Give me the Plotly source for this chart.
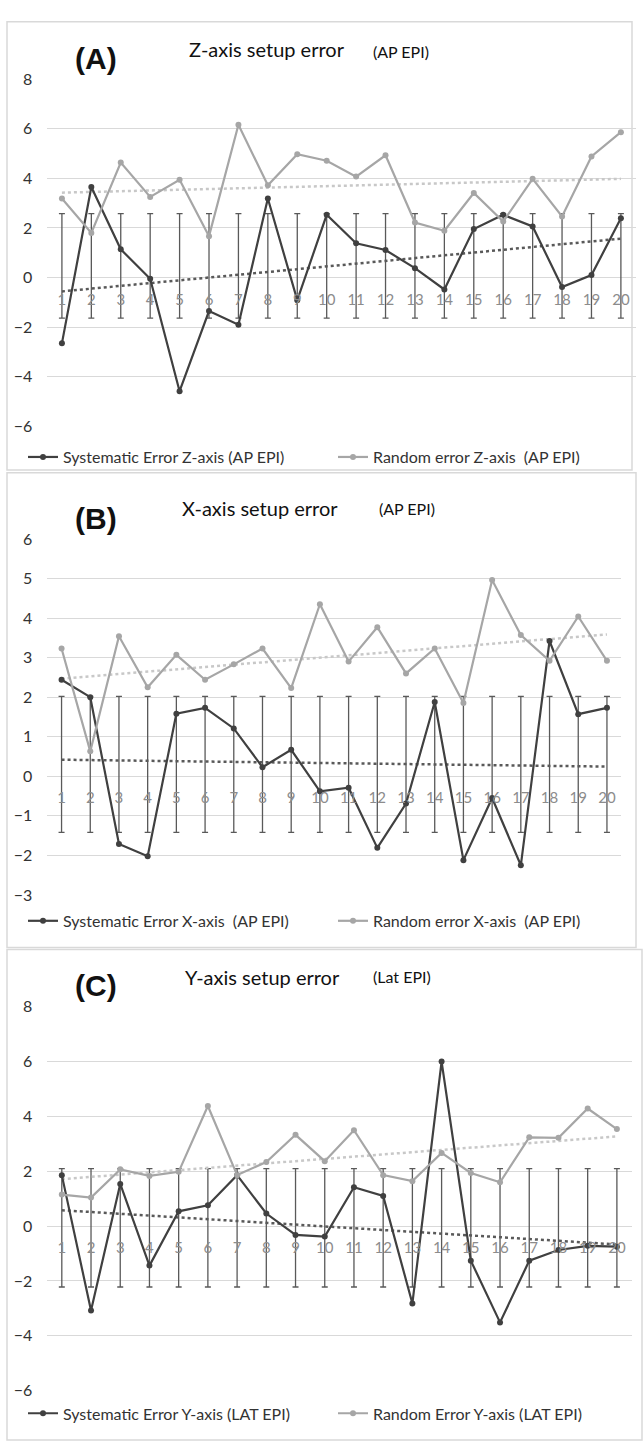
import numpy as np
import plotly.graph_objects as go

W, H = 643, 1449

categories = [str(i) for i in range(1, 21)]

# Panel A - Z-axis (AP EPI)
sys_z = [-2.65, 3.65, 1.14, -0.05, -4.58, -1.35, -1.9, 3.19, -0.91, 2.53,
         1.38, 1.11, 0.38, -0.48, 1.96, 2.53, 2.06, -0.38, 0.1, 2.39]
rand_z = [3.19, 1.8, 4.64, 3.25, 3.94, 1.67, 6.16, 3.72, 4.97, 4.71,
          4.07, 4.93, 2.22, 1.89, 3.41, 2.26, 3.98, 2.46, 4.88, 5.86]
err_z_top, err_z_bottom = 2.58, -1.63

# Panel B - X-axis (AP EPI)
sys_x = [2.44, 2.0, -1.71, -2.02, 1.58, 1.73, 1.21, 0.23, 0.67, -0.38,
         -0.29, -1.81, -0.69, 1.88, -2.12, -0.55, -2.25, 3.42, 1.57, 1.73]
rand_x = [3.23, 0.63, 3.54, 2.25, 3.07, 2.44, 2.83, 3.23, 2.23, 4.35,
          2.9, 3.77, 2.6, 3.23, 1.85, 4.96, 3.57, 2.92, 4.04, 2.92]
err_x_top, err_x_bottom = 2.02, -1.42

# Panel C - Y-axis (LAT EPI)
sys_y = [1.86, -3.08, 1.54, -1.44, 0.54, 0.76, 1.86, 0.46, -0.32, -0.38,
         1.42, 1.1, -2.82, 6.0, -1.26, -3.51, -1.26, -0.87, -0.72, -0.75]
rand_y = [1.15, 1.04, 2.07, 1.83, 1.98, 4.38, 1.86, 2.34, 3.33, 2.37,
          3.5, 1.86, 1.64, 2.67, 1.94, 1.6, 3.24, 3.22, 4.29, 3.54]
err_y_top, err_y_bottom = 2.1, -2.22

DARK = "#404040"
LIGHT = "#a6a6a6"
TXT = "#333333"
GRID = "#d9d9d9"
FONT = "Lato"

panels = [
    dict(sys=sys_z, rand=rand_z, et=err_z_top, eb=err_z_bottom,
         sys_name="Systematic Error Z-axis (AP EPI)",
         rand_name="Random error Z-axis  (AP EPI)",
         label="(A)", title="Z-axis setup error", sub="(AP EPI)",
         xpx=(47.2, 635.6), ypx=(422, 70), yr=(-6, 8), dt=2,
         lab_y=49, tit_y=40, sub_y=42, tit_x=186.6, sub_x=371,
         leg_y=453, box=(7, 12, 632, 466)),
    dict(sys=sys_x, rand=rand_x, et=err_x_top, eb=err_x_bottom,
         sys_name="Systematic Error X-axis  (AP EPI)",
         rand_name="Random error X-axis  (AP EPI)",
         label="(B)", title="X-axis setup error", sub="(AP EPI)",
         xpx=(47.2, 621.3), ypx=(896.7, 536), yr=(-3, 6), dt=1,
         lab_y=515, tit_y=505, sub_y=505, tit_x=180, sub_x=377,
         leg_y=923, box=(7, 469, 636, 950)),
    dict(sys=sys_y, rand=rand_y, et=err_y_top, eb=err_y_bottom,
         sys_name="Systematic Error Y-axis (LAT EPI)",
         rand_name="Random Error Y-axis (LAT EPI)",
         label="(C)", title="Y-axis setup error", sub="(Lat EPI)",
         xpx=(47.2, 631.5), ypx=(1399, 1010), yr=(-6, 8), dt=2,
         lab_y=988, tit_y=980, sub_y=979, tit_x=182.5, sub_x=371,
         leg_y=1422, box=(7, 952, 642, 1449)),
]

fig = go.Figure()
layout = dict(width=W, height=H, margin=dict(l=0, r=0, t=0, b=0),
              paper_bgcolor="white", plot_bgcolor="white",
              font=dict(family=FONT, color=TXT), annotations=[], shapes=[])

idx = np.arange(1, 21)
for i, p in enumerate(panels):
    n = "" if i == 0 else str(i + 1)
    xa, ya = "x" + n, "y" + n
    leg = "legend" + n
    xd = [p["xpx"][0] / W, p["xpx"][1] / W]
    yd = [1 - p["ypx"][0] / H, 1 - p["ypx"][1] / H]
    y0pos = yd[0] + (0 - p["yr"][0]) / (p["yr"][1] - p["yr"][0]) * (yd[1] - yd[0])

    # error bars
    mid = (p["et"] + p["eb"]) / 2
    half = (p["et"] - p["eb"]) / 2
    fig.add_trace(go.Scatter(
        x=categories, y=[mid] * 20, mode="markers", marker=dict(opacity=0),
        error_y=dict(type="constant", value=half, color="#595959",
                     thickness=1.3, width=3),
        showlegend=False, hoverinfo="skip", xaxis=xa, yaxis=ya))

    # trend lines
    for vals, col in ((p["rand"], "#c8c8c8"), (p["sys"], "#595959")):
        b, a = np.polyfit(idx, vals, 1)
        fig.add_trace(go.Scatter(
            x=categories, y=a + b * idx, mode="lines",
            line=dict(color=col, width=2.5, dash="dot"),
            showlegend=False, hoverinfo="skip", xaxis=xa, yaxis=ya))

    fig.add_trace(go.Scatter(
        x=categories, y=p["sys"], mode="lines+markers", name=p["sys_name"],
        line=dict(color=DARK, width=2.2), marker=dict(size=6, color=DARK),
        xaxis=xa, yaxis=ya, legend=leg))
    fig.add_trace(go.Scatter(
        x=categories, y=p["rand"], mode="lines+markers", name=p["rand_name"],
        line=dict(color=LIGHT, width=2.2), marker=dict(size=6, color=LIGHT),
        xaxis=xa, yaxis=ya, legend=leg))

    layout["xaxis" + n] = dict(
        domain=xd, anchor="free", position=y0pos, type="category",
        range=[-0.5, 19.5], showgrid=False, zeroline=False, showline=False,
        ticks="outside", ticklen=8, tickcolor="rgba(0,0,0,0)",
        tickfont=dict(family=FONT, size=15, color="#8c8c8c"), fixedrange=True)
    layout["yaxis" + n] = dict(
        domain=yd, anchor=xa, range=list(p["yr"]), dtick=p["dt"],
        showgrid=True, gridcolor=GRID, gridwidth=1, zeroline=False,
        showline=False, ticklabelstandoff=14,
        tickfont=dict(family=FONT, size=16, color=TXT), fixedrange=True)

    layout[leg] = dict(
        orientation="h", x=45 / W, y=1 - p["leg_y"] / H, xanchor="left",
        yanchor="middle", font=dict(family=FONT, size=16, color=TXT),
        bgcolor="rgba(0,0,0,0)", itemwidth=30, entrywidth=265)

    layout["annotations"] += [
        dict(x=96 / W, y=1 - p["lab_y"] / H, xref="paper", yref="paper",
             text="<b>" + p["label"] + "</b>", showarrow=False,
             xanchor="center", yanchor="middle",
             font=dict(family="Liberation Sans", size=30, color="#111111")),
        dict(x=p["tit_x"] / W, y=1 - p["tit_y"] / H, xref="paper", yref="paper",
             text=p["title"], showarrow=False, xanchor="left", yanchor="middle",
             font=dict(family=FONT, size=20, color="#111111")),
        dict(x=p["sub_x"] / W, y=1 - p["sub_y"] / H, xref="paper", yref="paper",
             text=p["sub"], showarrow=False, xanchor="left", yanchor="middle",
             font=dict(family=FONT, size=16, color="#111111")),
    ]
    bx = p["box"]
    layout["shapes"].append(dict(
        type="rect", xref="paper", yref="paper", x0=bx[0] / W, x1=bx[2] / W,
        y0=1 - bx[3] / H, y1=1 - bx[1] / H, line=dict(color=GRID, width=1.5),
        layer="below"))

fig.update_layout(**layout)
fig.write_html(
    "out.html",
    config={"displayModeBar": False},
    post_script="document.body.style.margin='0';document.body.style.overflow='hidden';")
